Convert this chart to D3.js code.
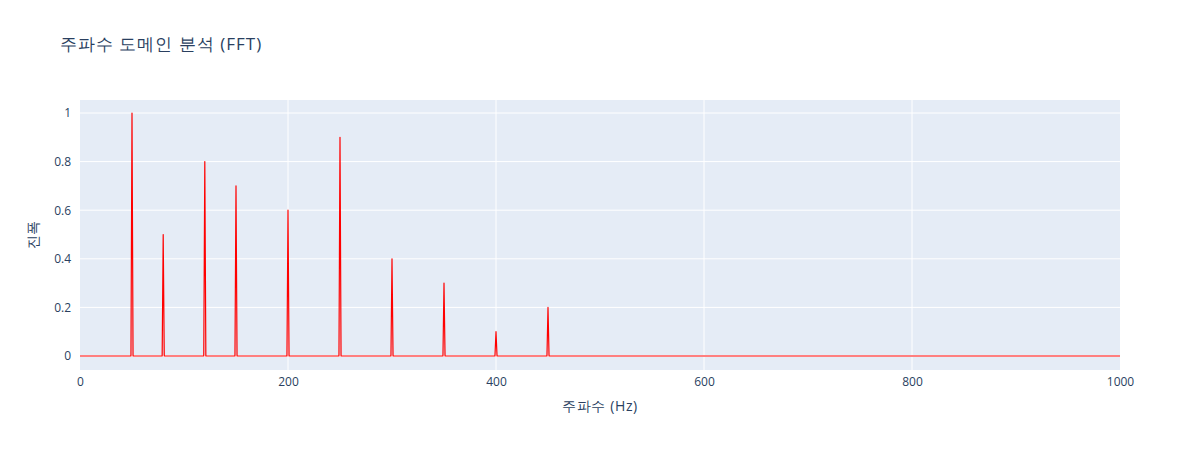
<!DOCTYPE html>
<html lang="ko">
<head>
<meta charset="UTF-8">
<title>주파수 도메인 분석 (FFT)</title>
<script src="https://d3js.org/d3.v7.min.js"></script>
<style>
  html, body { margin: 0; padding: 0; background: #fff; }
  svg { display: block; font-family: "Open Sans", verdana, arial, sans-serif; }
</style>
</head>
<body>
<svg id="chart" width="1200" height="450"></svg>
<script>
// peak frequencies (Hz) and amplitudes
const peakFreqs = [50, 80, 120, 150, 200, 250, 300, 350, 400, 450];
const peakAmps = [1.0, 0.5, 0.8, 0.7, 0.6, 0.9, 0.4, 0.3, 0.1, 0.2];
const freqRange = [0, 1000];
const xTicks = [0, 200, 400, 600, 800, 1000];
const yTicks = [0, 0.2, 0.4, 0.6, 0.8, 1];

const svg = d3.select("#chart");
const margin = { left: 80, right: 80, top: 100, bottom: 80 };
const W = 1200, H = 450;
const pw = W - margin.left - margin.right;
const ph = H - margin.top - margin.bottom;
const ink = "#2a3f5f";

const x = d3.scaleLinear().domain(freqRange).range([margin.left, margin.left + pw]);
const y = d3.scaleLinear().domain([-0.0576, 1.0535]).range([margin.top + ph, margin.top]);

// plot background
svg.append("rect")
  .attr("x", margin.left).attr("y", margin.top)
  .attr("width", pw).attr("height", ph)
  .attr("fill", "#e5ecf6");

// grid
svg.append("g").selectAll("line")
  .data(xTicks.filter(d => d > freqRange[0] && d < freqRange[1]))
  .enter().append("line")
  .attr("x1", d => x(d)).attr("x2", d => x(d))
  .attr("y1", margin.top).attr("y2", margin.top + ph)
  .attr("stroke", "#fff").attr("stroke-width", 1);

svg.append("g").selectAll("line")
  .data(yTicks)
  .enter().append("line")
  .attr("x1", margin.left).attr("x2", margin.left + pw)
  .attr("y1", d => y(d)).attr("y2", d => y(d))
  .attr("stroke", "#fff").attr("stroke-width", d => d === 0 ? 2 : 1);

// tick labels
const xAxis = d3.axisBottom(x).tickValues(xTicks).tickSize(0).tickPadding(7).tickFormat(d3.format("d"));
svg.append("g")
  .attr("transform", `translate(0,${margin.top + ph})`)
  .call(xAxis)
  .call(g => g.select(".domain").remove())
  .selectAll("text").attr("fill", ink).attr("font-size", 12).attr("font-family", "'Open Sans', sans-serif");

const yAxis = d3.axisLeft(y).tickValues(yTicks).tickSize(0).tickPadding(9).tickFormat(d => d3.format("")(+d.toFixed(1)));
svg.append("g")
  .attr("transform", `translate(${margin.left},0)`)
  .call(yAxis)
  .call(g => g.select(".domain").remove())
  .selectAll("text").attr("fill", ink).attr("font-size", 12).attr("font-family", "'Open Sans', sans-serif");

// spectrum: flat baseline with a narrow spike at every peak
const points = [[freqRange[0], 0]];
peakFreqs.forEach((f, i) => {
  points.push([f - 1, 0], [f, peakAmps[i]], [f + 1, 0]);
});
points.push([freqRange[1], 0]);

const line = d3.line().x(d => x(d[0])).y(d => y(d[1]));
svg.append("path")
  .datum(points)
  .attr("d", line)
  .attr("fill", "none")
  .attr("stroke", "red")
  .attr("stroke-width", 1.2)
  .attr("stroke-linejoin", "round");

// titles
svg.append("text")
  .attr("x", 60).attr("y", 50)
  .attr("fill", ink).attr("font-size", 17)
  .attr("letter-spacing", 1)
  .text("주파수 도메인 분석 (FFT)");

svg.append("text")
  .attr("x", margin.left + pw / 2).attr("y", 411)
  .attr("text-anchor", "middle")
  .attr("fill", ink).attr("font-size", 14)
  .attr("letter-spacing", 0.6)
  .text("주파수 (Hz)");

svg.append("text")
  .attr("transform", `translate(38,${margin.top + ph / 2}) rotate(-90)`)
  .attr("text-anchor", "middle")
  .attr("fill", ink).attr("font-size", 14)
  .text("진폭");
</script>
</body>
</html>
